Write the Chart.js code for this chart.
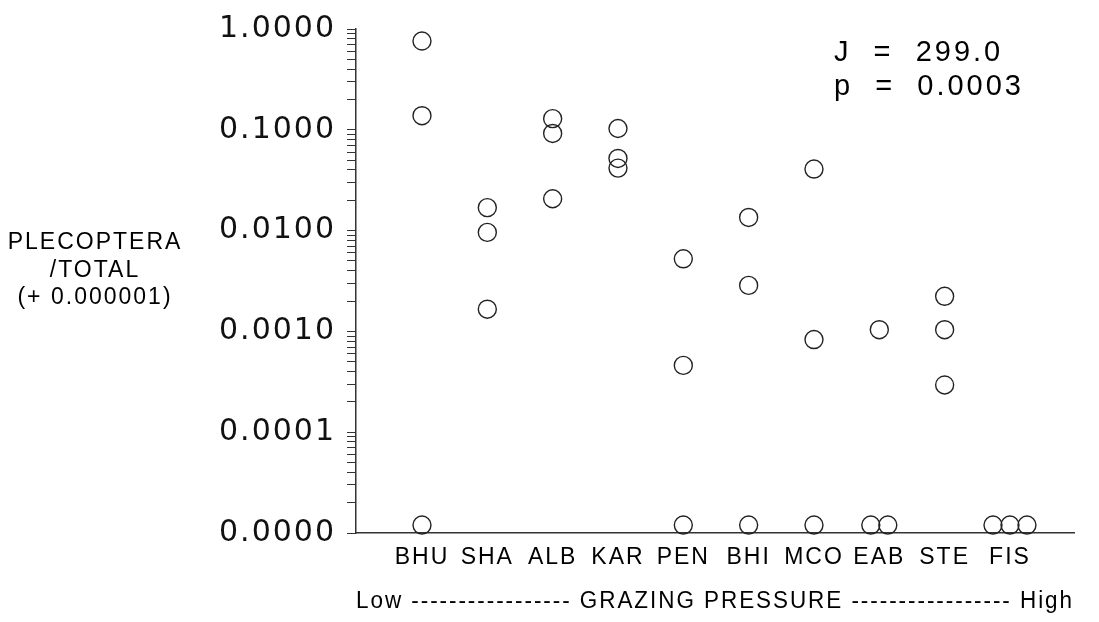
<!DOCTYPE html>
<html>
<head>
<meta charset="utf-8">
<script src="https://cdn.jsdelivr.net/npm/chart.js@4"></script>
<style>
  html, body { margin: 0; padding: 0; background: #fff; }
  #wrap { width: 1099px; height: 622px; }
</style>
</head>
<body>
<div id="wrap"><canvas id="plecChart"></canvas></div>
<script>
// sites, ordered low -> high grazing pressure
const sites = ['BHU', 'SHA', 'ALB', 'KAR', 'PEN', 'BHI', 'MCO', 'EAB', 'STE', 'FIS'];

// Plecoptera / total (+ 0.000001), one array per site; 0 = no stoneflies
const bhu = [0.76, 0.138, 0];
const sha = [0.0169, 0.0096, 0.00166];
const alb = [0.129, 0.092, 0.0207];
const kar = [0.103, 0.052, 0.0417];
const pen = [0.00525, 0.00046, 0];
const bhi = [0.0135, 0.00286, 0];
const mco = [0.0408, 0.00083, 0];
const eab = [0.00104, 0, 0];
const ste = [0.00223, 0.00104, 0.000294];
const fis = [0, 0, 0];
const siteValues = [bhu, sha, alb, kar, pen, bhi, mco, eab, ste, fis];

// zeros sit on the bottom of the log axis, side by side when tied
const zeroValue = 1.2e-5;
const tieSpread = 0.26;

const yTickLabels = ['1.0000', '0.1000', '0.0100', '0.0010', '0.0001', '0.0000'];
const statLines = ['J  =  299.0', 'p  =  0.0003'];
const yTitleLines = ['PLECOPTERA', '/TOTAL', '(+ 0.000001)'];
const xTitle = 'Low ----------------- GRAZING PRESSURE ----------------- High';

// build scatter points from the site arrays
const points = [];
siteValues.forEach((vals, i) => {
    const zeros = vals.filter(v => v === 0).length;
    let k = 0;
    vals.forEach(v => {
        if (v === 0) {
            const off = zeros > 1 ? (k - (zeros - 1) / 2) * tieSpread : 0;
            points.push({ x: i + off, y: zeroValue });
            k++;
        } else {
            points.push({ x: i, y: v });
        }
    });
});

const textPlugin = {
    id: 'textPlugin',
    beforeUpdate(chart) { chart.ctx.letterSpacing = '2px'; },
    beforeDraw(chart) { chart.ctx.letterSpacing = '2px'; },
    afterDraw(chart) {
        const c = chart.ctx;
        c.save();
        c.fillStyle = '#000';
        c.letterSpacing = '2px';
        c.textBaseline = 'middle';
        c.font = '23px "Liberation Sans", Arial, sans-serif';
        c.textAlign = 'center';
        yTitleLines.forEach((t, i) => c.fillText(t, 95, 243 + i * 27.5));
        c.letterSpacing = '3px';
        c.font = '29px "Liberation Sans", Arial, sans-serif';
        c.textAlign = 'left';
        c.fillText(statLines[0], 834, 53);
        c.fillText(statLines[1], 834, 87);
        c.restore();
    }
};

const ctx = document.getElementById('plecChart').getContext('2d');
const chart = new Chart(ctx, {
    type: 'scatter',
    data: {
        datasets: [{
            data: points,
            pointStyle: 'circle',
            pointRadius: 9,
            pointHoverRadius: 9,
            pointBorderWidth: 1.4,
            borderColor: '#222',
            backgroundColor: 'rgba(0,0,0,0)',
            clip: false
        }]
    },
    options: {
        responsive: true,
        maintainAspectRatio: false,
        animation: false,
        events: [],
        layout: { padding: { top: 22, right: 25, left: 0, bottom: 0 } },
        plugins: { legend: { display: false }, tooltip: { enabled: false } },
        scales: {
            x: {
                type: 'linear',
                min: -1.01,
                max: 9.98,
                afterBuildTicks: scale => {
                    scale.ticks = sites.map((s, i) => ({ value: i }));
                },
                afterFit: scale => { scale.height = 89; },
                grid: { display: false },
                border: { display: true, color: '#333', width: 1.5 },
                ticks: {
                    autoSkip: false,
                    maxRotation: 0,
                    padding: 3,
                    color: '#000',
                    font: { family: '"Liberation Sans", Arial, sans-serif', size: 23 },
                    callback: v => sites[v]
                },
                title: {
                    display: true,
                    text: xTitle,
                    color: '#000',
                    font: { family: '"Liberation Sans", Arial, sans-serif', size: 23 },
                    padding: { top: 0, bottom: 7 }
                }
            },
            y: {
                type: 'logarithmic',
                min: 1e-5,
                max: 1,
                afterBuildTicks: scale => {
                    const t = [];
                    for (let e = -5; e <= 0; e++) {
                        for (let m = 1; m <= 9; m++) {
                            const v = Number((m * Math.pow(10, e)).toPrecision(3));
                            if (v <= 1) t.push({ value: v });
                        }
                    }
                    scale.ticks = t;
                },
                afterFit: scale => { scale.width = 356; },
                grid: { drawOnChartArea: false, drawTicks: true, tickLength: 9, color: '#333', lineWidth: 1 },
                border: { display: true, color: '#333', width: 1.5 },
                ticks: {
                    autoSkip: false,
                    padding: 11,
                    color: '#111',
                    font: { family: '"DejaVu Sans", sans-serif', size: 30 },
                    callback: v => {
                        const e = Math.log10(v);
                        if (Math.abs(e - Math.round(e)) > 1e-6) return '';
                        return yTickLabels[-Math.round(e)];
                    }
                }
            }
        }
    },
    plugins: [textPlugin]
});
</script>
</body>
</html>
